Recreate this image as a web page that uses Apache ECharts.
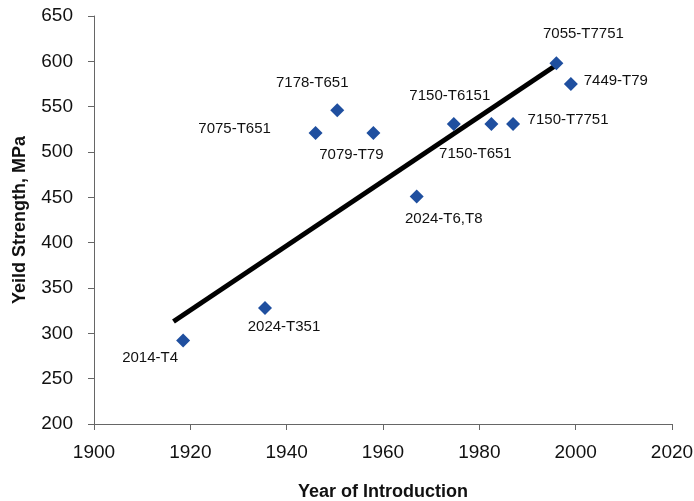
<!DOCTYPE html>
<html><head><meta charset="utf-8">
<script src="https://cdn.jsdelivr.net/npm/echarts@6/dist/echarts.min.js"></script>
<style>html,body{margin:0;padding:0;background:#fff}#c{width:694px;height:501px}</style>
</head><body><div id="c"></div>
<script>
var alloys = ['2014-T4','2024-T351','7075-T651','7178-T651','7079-T79','2024-T6,T8','7150-T6151','7150-T651','7150-T7751','7055-T7751','7449-T79'];
var years  = [1918.5, 1935.5, 1946, 1950.5, 1958, 1967, 1974.7, 1982.5, 1987, 1996, 1999];
var yieldStrength = [292, 328, 521, 546, 521, 451, 531, 531, 531, 598, 575];
var labelOffsets = [[-33,17],[19,19],[-81,-4],[-25,-27],[-22,22],[27,22],[-4,-28],[-16,30],[55,-4],[27,-29],[45,-3]];
var trendYears = [1916.5, 1996];
var trendValues = [313, 596];

var pts = years.map(function(y,i){
  return {value:[y, yieldStrength[i]], name: alloys[i],
    label:{offset: labelOffsets[i]}};
});

var chart = echarts.init(document.getElementById('c'));
var font = 'Liberation Sans, Arial';
var axisCommon = {
  axisLine:{show:true, lineStyle:{color:'#666', width:1}},
  axisTick:{show:true, lineStyle:{color:'#666'}, length:6},
  splitLine:{show:false},
  nameTextStyle:{color:'#111', fontSize:18, fontWeight:'bold', fontFamily:font},
  nameLocation:'middle'
};
chart.setOption({
  animation:false,
  grid:{left:94, right:22, top:16, bottom:77, containLabel:false, outerBoundsMode:'none'},
  xAxis: Object.assign({}, axisCommon, {type:'value', min:1900, max:2020, interval:20, name:'Year of Introduction', nameGap:59,
    axisLabel:{color:'#111', fontSize:19, fontFamily:font, margin:19, formatter:function(v){return String(v);}}}),
  yAxis: Object.assign({}, axisCommon, {type:'value', min:200, max:650, interval:50, name:'Yeild Strength, MPa', nameGap:65,
    axisLabel:{color:'#111', fontSize:19, fontFamily:font, margin:21}}),
  series:[
    {type:'line', data: trendYears.map(function(y,i){return [y, trendValues[i]];}),
     showSymbol:false, symbol:'none', lineStyle:{color:'#000', width:5}, z:2},
    {type:'scatter', data: pts, symbol:'diamond', symbolSize:14,
     itemStyle:{color:'#1f4f9f', opacity:1}, z:3,
     label:{show:true, position:'inside', formatter:function(p){return p.name;},
       color:'#111', fontSize:15, fontFamily:font}}
  ]
});
</script></body></html>
